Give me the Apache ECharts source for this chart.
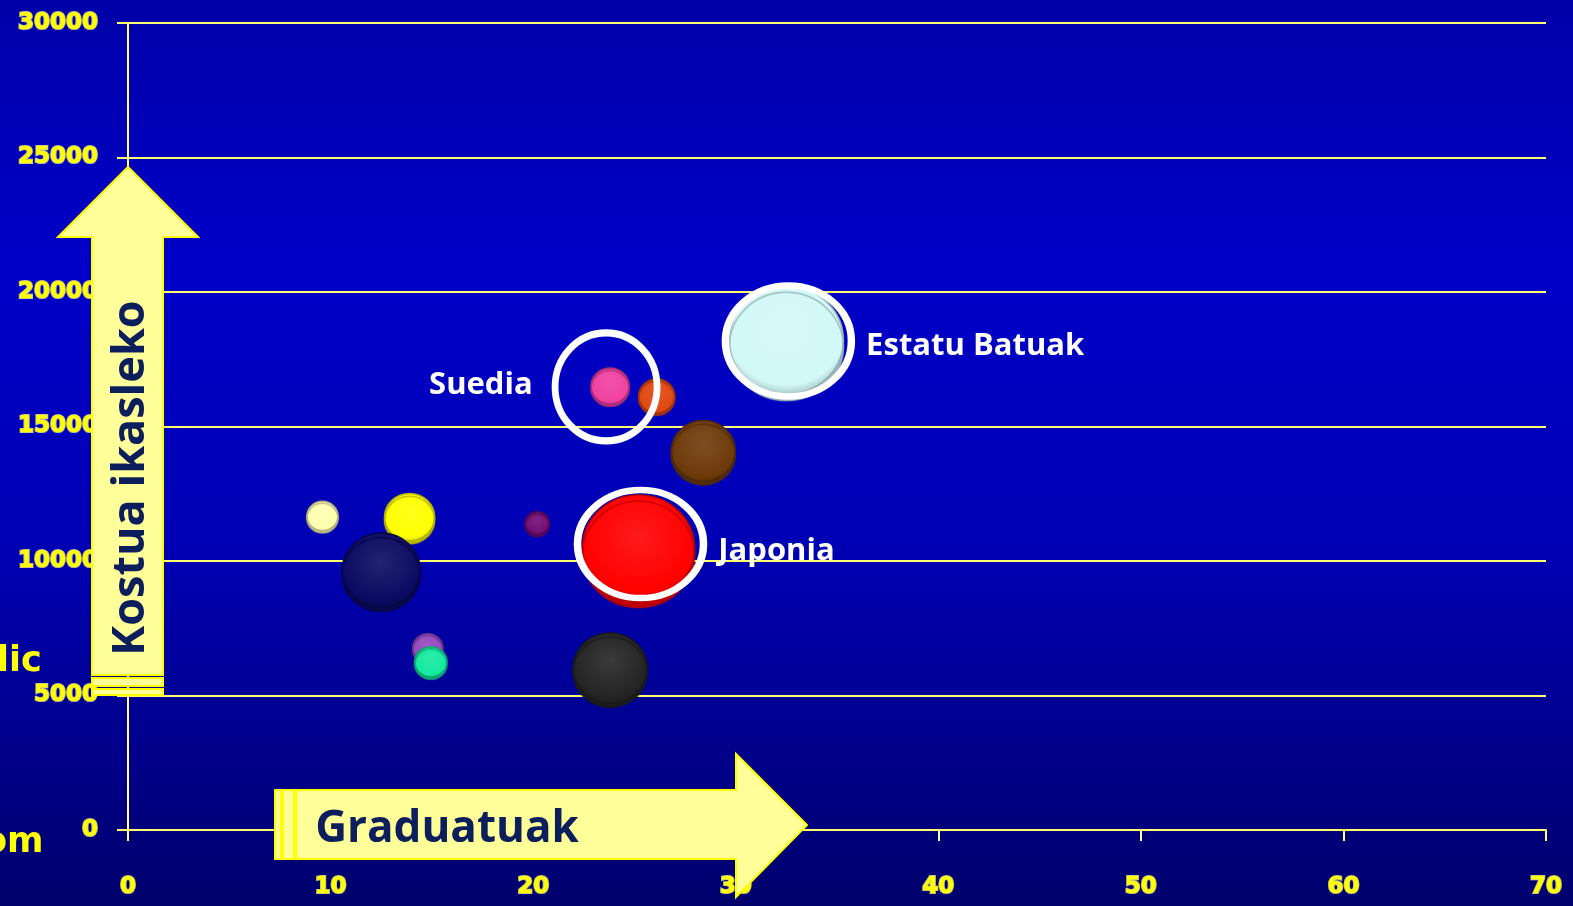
<!DOCTYPE html>
<html>
<head>
<meta charset="utf-8">
<script src="https://cdn.jsdelivr.net/npm/echarts@6/dist/echarts.min.js"></script>
<style>
  html,body{margin:0;padding:0;background:#0000a8;}
  #main{width:1573px;height:906px;}
</style>
</head>
<body>
<div id="main"></div>
<script>
// bubbles: graduates (x), cost per student (y), bubble size (px diameter)
var bubbleX     = [9.6,   13.9,  12.5, 20.2,  14.8, 14.95, 23.8, 25.2,  28.4,  26.1,  23.8,  32.5];
var bubbleY     = [11670, 11630, 9660, 11410, 6770, 6250,  6020, 10480, 14090, 16130, 16500, 18210];
var bubbleSize  = [31,    50,    78,   24,    30,   32,    74,   112,   64,    36,    38,    114];
var bubbleColor = ['#ffffb0','#ffff00','#0a0a62','#740c74','#9548c0','#14eaa0',
                   '#242424','#ff0000','#6e3a0a','#e04810','#f040a0','#d2f8f8'];

// highlighted countries (white rings)
var ringNames = ['Suedia', 'Japonia', 'Estatu Batuak'];
var ringX     = [23.6,  25.3,  32.6];
var ringY     = [16470, 10630, 18180];
var ringW     = [102, 126, 126];
var ringH     = [108, 108, 111];

function shade(hex, f){
  var n = parseInt(hex.slice(1),16);
  var r=(n>>16)&255, g=(n>>8)&255, b=n&255;
  function c(v){ return Math.max(0,Math.min(255,Math.round(f<0 ? v*(1+f) : v+(255-v)*f))); }
  return 'rgb('+c(r)+','+c(g)+','+c(b)+')';
}

var bubbleData = bubbleX.map(function(x,i){
  var col = bubbleColor[i];
  return {
    value:[x, bubbleY[i], bubbleSize[i]],
    itemStyle:{
      opacity:1,
      color:{type:'radial', x:0.5, y:0.4, r:0.6, colorStops:[
        {offset:0, color:shade(col,0.1)},
        {offset:0.85, color:col},
        {offset:1, color:shade(col,-0.2)}
      ]},
      borderColor:shade(col,-0.3),
      borderWidth:1.5,
      shadowColor:shade(col,-0.25),
      shadowBlur:1,
      shadowOffsetY:Math.max(2, bubbleSize[i]/18)
    }
  };
});

var labelPos  = ['left', 'right', 'right'];
var labelDist = [19, 11, 11];
var labelOff  = [[0,-2],[0,7],[0,5]];
var ringData = ringNames.map(function(n,i){
  return {
    name:n,
    value:[ringX[i], ringY[i]],
    symbolSize:[ringW[i], ringH[i]],
    label:{position:labelPos[i], distance:labelDist[i], offset:labelOff[i]}
  };
});

var axisFont = {color:'#ffff00', fontFamily:'DejaVu Sans', fontWeight:'bold', fontSize:23,
                textBorderColor:'rgba(240,240,110,0.85)', textBorderWidth:2};
var arrowStyle = {fill:'#ffff99', stroke:'#ffff00', lineWidth:2};

var myChart = echarts.init(document.getElementById('main'));
var option = {
  animation:false,
  backgroundColor:{type:'linear', x:0, y:0, x2:0, y2:1, colorStops:[
    {offset:0, color:'#0000a8'},
    {offset:0.3, color:'#0000c8'},
    {offset:0.6, color:'#0000b4'},
    {offset:1, color:'#00006c'}
  ]},
  grid:{left:128, right:27, top:23, bottom:76},
  xAxis:{
    type:'value', min:0, max:70, interval:10,
    axisLine:{show:true, lineStyle:{color:'#ffff70', width:2}},
    axisTick:{show:true, length:11, lineStyle:{color:'#ffff90', width:2}},
    axisLabel:Object.assign({margin:46, formatter:function(v){ return String(v); }}, axisFont),
    splitLine:{show:false}
  },
  yAxis:{
    type:'value', min:0, max:30000, interval:5000,
    axisLine:{show:true, lineStyle:{color:'#ffffa0', width:2}},
    axisTick:{show:true, length:11, lineStyle:{color:'#ffff70', width:2}},
    axisLabel:Object.assign({margin:30, formatter:function(v){ return String(v); }}, axisFont),
    splitLine:{show:true, lineStyle:{color:'#ffff70', width:2}}
  },
  series:[
    {
      type:'scatter', z:3,
      symbolSize:function(d){ return [d[2], d[2]*0.95]; },
      data:bubbleData
    },
    {
      type:'scatter', z:4,
      symbol:'circle',
      itemStyle:{opacity:1, color:'rgba(0,0,0,0)', borderColor:'#ffffff', borderWidth:7},
      label:{show:true, formatter:'{b}', color:'#ffffff', fontFamily:'Open Sans',
             fontWeight:'bold', fontSize:31},
      data:ringData
    }
  ],
  graphic:[
    // vertical arrow
    {type:'polygon', z:10, shape:{points:[[92,675],[92,237],[58,237],[128,167],[198,237],[163,237],[163,675]]}, style:arrowStyle},
    {type:'rect', z:10, shape:{x:92, y:678, width:71, height:8}, style:arrowStyle},
    {type:'rect', z:10, shape:{x:92, y:689, width:71, height:6}, style:arrowStyle},
    {type:'text', z:11, x:131, y:478, rotation:Math.PI/2,
     style:{text:'Kostua ikasleko', fill:'#0c1f5c', font:'bold 45px "Open Sans"', align:'center', verticalAlign:'middle'}},
    // horizontal arrow
    {type:'polygon', z:10, shape:{points:[[296,790],[736,790],[736,754],[807,825],[736,897],[736,859],[296,859]]}, style:arrowStyle},
    {type:'rect', z:10, shape:{x:275, y:790, width:6, height:69}, style:arrowStyle},
    {type:'rect', z:10, shape:{x:283, y:790, width:11, height:69}, style:arrowStyle},
    {type:'text', z:11, x:447, y:829,
     style:{text:'Graduatuak', fill:'#0c1f5c', font:'bold 44px "Open Sans"', align:'center', verticalAlign:'middle'}},
    // cut-off words at the left edge
    {type:'text', z:11, x:-3, y:662,
     style:{text:'lic', fill:'#ffff00', font:'bold 35px "DejaVu Sans"', align:'left', verticalAlign:'middle'}},
    {type:'text', z:11, x:-17, y:843,
     style:{text:'om', fill:'#ffff00', font:'bold 35px "DejaVu Sans"', align:'left', verticalAlign:'middle'}}
  ]
};
myChart.setOption(option);
</script>
</body>
</html>
